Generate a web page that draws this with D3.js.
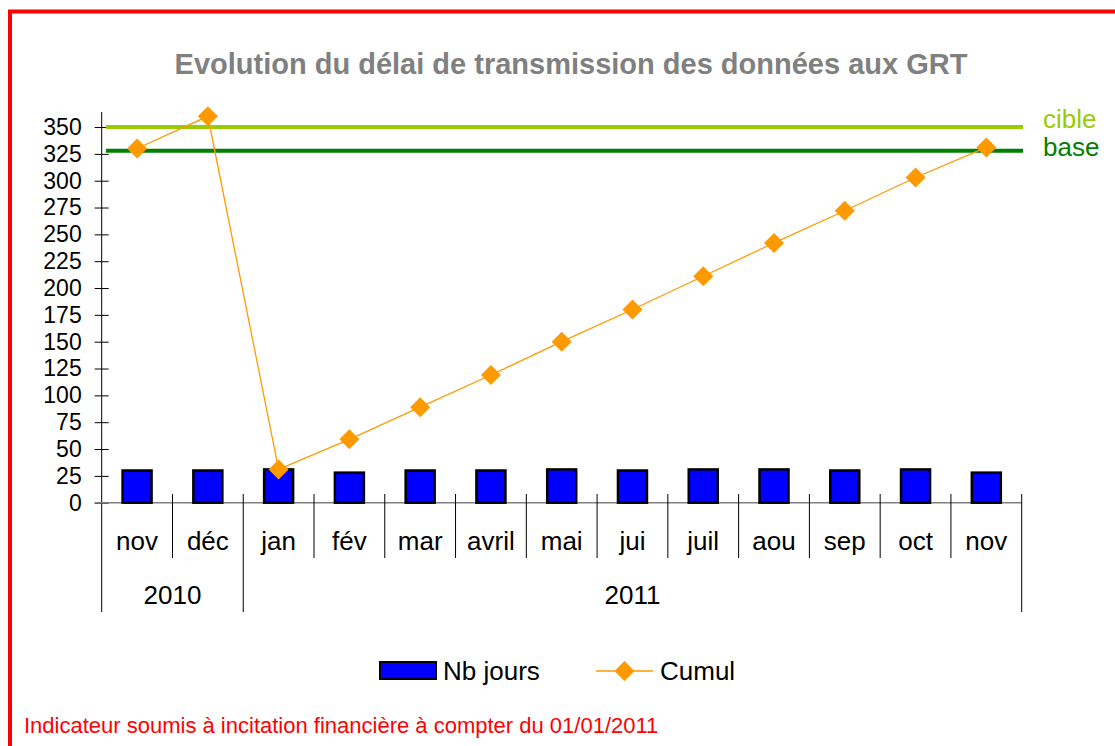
<!DOCTYPE html>
<html>
<head>
<meta charset="utf-8">
<script src="https://cdn.jsdelivr.net/npm/d3@7"></script>
<style>
  body { margin: 0; background: #fff; }
  text { font-family: "Liberation Sans", Arial, sans-serif; }
</style>
</head>
<body>
<div id="chart"></div>
<script>
// data
var months = ["nov", "déc", "jan", "fév", "mar", "avril", "mai", "jui", "juil", "aou", "sep", "oct", "nov"];
var years = [{ label: "2010", from: 0, to: 2 }, { label: "2011", from: 2, to: 13 }];
var nbJours = [30, 30, 31, 28, 30, 30, 31, 30, 31, 31, 30, 31, 28];
var cumul = [330, 360, 31, 59, 89, 119, 150, 180, 211, 242, 272, 303, 331];
var yTicks = [0, 25, 50, 75, 100, 125, 150, 175, 200, 225, 250, 275, 300, 325, 350];
var cible = 350, base = 328;

var W = 1115, H = 746;

var svg = d3.select("#chart").append("svg")
  .attr("width", W)
  .attr("height", H);

// red frame (runs off the right/bottom)
svg.append("rect")
  .attr("x", 10).attr("y", 11.5)
  .attr("width", 1300).attr("height", 900)
  .attr("fill", "#fff")
  .attr("stroke", "#ff0000")
  .attr("stroke-width", 4);

// title
svg.append("text")
  .attr("x", 571).attr("y", 74)
  .attr("text-anchor", "middle")
  .style("font-size", "29px")
  .style("font-weight", "bold")
  .style("fill", "#808080")
  .text("Evolution du délai de transmission des données aux GRT");

var x0 = 101.7, x1 = 1021.7;
var x = d3.scaleBand()
  .domain(d3.range(months.length))
  .range([x0, x1])
  .padding(0);

var y = d3.scaleLinear()
  .domain([0, 364])
  .range([502.7, 112]);

// y axis
var yAxis = svg.append("g")
  .attr("transform", "translate(" + x0 + ",0)")
  .call(d3.axisLeft(y).tickValues(yTicks).tickSize(7).tickPadding(13));
yAxis.select(".domain").remove();
yAxis.selectAll(".tick line").attr("x1", 7).attr("stroke", "#000");
yAxis.selectAll(".tick text")
  .style("font-size", "23px")
  .style("fill", "#000");

svg.append("line")
  .attr("x1", x0).attr("x2", x0)
  .attr("y1", y(364)).attr("y2", 612)
  .attr("stroke", "#000");

// zero line
svg.append("line")
  .attr("x1", x0 - 7).attr("x2", x1)
  .attr("y1", y(0)).attr("y2", y(0))
  .attr("stroke", "#808080")
  .attr("stroke-width", 1.5);

// category separators
var longSep = [2, 13];
svg.append("g").selectAll("line")
  .data(d3.range(1, months.length + 1))
  .join("line")
  .attr("x1", function (i) { return i < months.length ? x(i) : x1; })
  .attr("x2", function (i) { return i < months.length ? x(i) : x1; })
  .attr("y1", 494)
  .attr("y2", function (i) { return longSep.indexOf(i) >= 0 ? 612 : 558; })
  .attr("stroke", "#000")
  .attr("stroke-width", 1);

// month labels
svg.append("g").selectAll("text")
  .data(months)
  .join("text")
  .attr("x", function (d, i) { return x(i) + x.bandwidth() / 2; })
  .attr("y", 550)
  .attr("text-anchor", "middle")
  .style("font-size", "26px")
  .text(function (d) { return d; });

// year labels
svg.append("g").selectAll("text")
  .data(years)
  .join("text")
  .attr("x", function (d) {
    var a = x(d.from), b = d.to < months.length ? x(d.to) : x1;
    return (a + b) / 2;
  })
  .attr("y", 604)
  .attr("text-anchor", "middle")
  .style("font-size", "26px")
  .text(function (d) { return d.label; });

// target lines
svg.append("line")
  .attr("x1", 106).attr("x2", 1023)
  .attr("y1", y(cible)).attr("y2", y(cible))
  .attr("stroke", "#99cc00").attr("stroke-width", 4);
svg.append("line")
  .attr("x1", 106).attr("x2", 1023)
  .attr("y1", y(base)).attr("y2", y(base))
  .attr("stroke", "#008000").attr("stroke-width", 4);
svg.append("text")
  .attr("x", 1043).attr("y", y(cible) + 0.5)
  .style("font-size", "26px").style("fill", "#99cc00")
  .text("cible");
svg.append("text")
  .attr("x", 1043).attr("y", y(base) + 5)
  .style("font-size", "26px").style("fill", "#008000")
  .text("base");

// bars
var bw = 29;
svg.append("g").selectAll("rect")
  .data(nbJours)
  .join("rect")
  .attr("x", function (d, i) { return x(i) + x.bandwidth() / 2 - bw / 2; })
  .attr("y", function (d) { return y(d); })
  .attr("width", bw)
  .attr("height", function (d) { return y(0) - y(d); })
  .attr("fill", "#0000ff")
  .attr("stroke", "#000")
  .attr("stroke-width", 2.5);

// cumul line
var cx = function (d, i) { return x(i) + x.bandwidth() / 2; };
svg.append("path")
  .datum(cumul)
  .attr("fill", "none")
  .attr("stroke", "#ff9900")
  .attr("stroke-width", 1.3)
  .attr("d", d3.line().x(cx).y(function (d) { return y(d); }));

var diamond = "M0,-10L10,0L0,10L-10,0Z";
svg.append("g").selectAll("path")
  .data(cumul)
  .join("path")
  .attr("transform", function (d, i) { return "translate(" + cx(d, i) + "," + y(d) + ")"; })
  .attr("d", diamond)
  .attr("fill", "#ff9900");

// legend
var lg = svg.append("g");
lg.append("rect")
  .attr("x", 380).attr("y", 662)
  .attr("width", 56).attr("height", 17)
  .attr("fill", "#0000ff").attr("stroke", "#000").attr("stroke-width", 2);
lg.append("text")
  .attr("x", 443).attr("y", 680)
  .style("font-size", "26px")
  .text("Nb jours");
lg.append("line")
  .attr("x1", 596).attr("x2", 653)
  .attr("y1", 671).attr("y2", 671)
  .attr("stroke", "#ff9900").attr("stroke-width", 1.3);
lg.append("path")
  .attr("transform", "translate(624.5,671)")
  .attr("d", diamond)
  .attr("fill", "#ff9900");
lg.append("text")
  .attr("x", 660).attr("y", 680)
  .style("font-size", "26px")
  .text("Cumul");

// footer note
svg.append("text")
  .attr("x", 24).attr("y", 733)
  .style("font-size", "22px")
  .style("fill", "#ff0000")
  .text("Indicateur soumis à incitation financière à compter du 01/01/2011");
</script>
</body>
</html>
